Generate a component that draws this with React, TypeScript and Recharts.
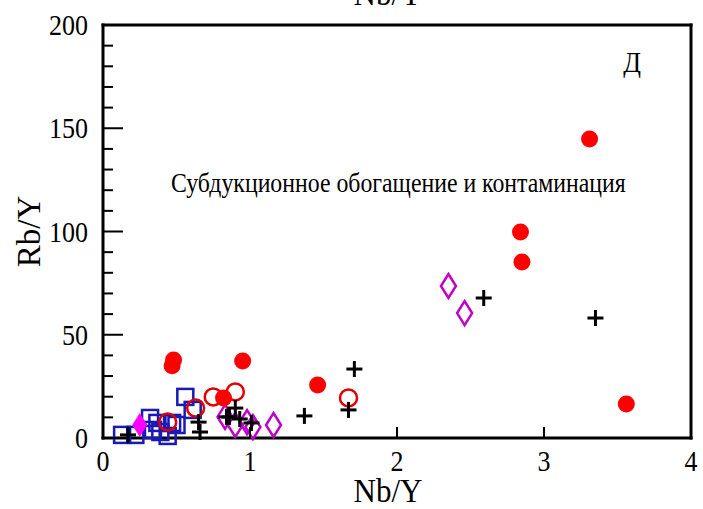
import React from "react";
import { ScatterChart, Scatter, XAxis, YAxis } from "recharts";

// axis ticks
const xTicks = [0, 1, 2, 3, 4];
const yTicks = [0, 10, 20, 30, 40, 50, 60, 70, 80, 90, 100, 110, 120, 130, 140, 150, 160, 170, 180, 190, 200];
const yLabelTicks = [0, 50, 100, 150, 200];

// red filled circles
const redFilledNb = [0.47, 0.48, 0.82, 0.95, 1.46, 2.84, 2.85, 3.31, 3.56];
const redFilledRb = [35.0, 37.8, 19.4, 37.3, 25.7, 99.8, 85.2, 144.8, 16.5];

// red open circles
const redOpenNb = [0.44, 0.63, 0.75, 0.9, 1.67];
const redOpenRb = [7.7, 14.5, 19.9, 22.3, 19.4];

// black crosses
const crossNb = [0.17, 0.65, 0.66, 0.84, 0.86, 0.9, 0.93, 1.01, 1.37, 1.67, 1.71, 2.59, 3.35];
const crossRb = [1.5, 7.7, 2.9, 10.2, 10.2, 14.5, 9.2, 7.3, 10.7, 13.6, 33.4, 67.8, 58.1];

// blue open squares
const squareNb = [0.13, 0.22, 0.32, 0.34, 0.37, 0.39, 0.44, 0.47, 0.5, 0.56, 0.61];
const squareRb = [1.5, 1.5, 9.7, 3.9, 7.3, 2.9, 1.0, 7.3, 6.3, 19.9, 13.6];

// magenta open diamonds
const diamondNb = [0.83, 0.9, 0.98, 1.02, 1.16, 2.35, 2.46];
const diamondRb = [10.2, 6.3, 7.7, 5.3, 6.3, 73.6, 60.5];

// magenta filled diamond
const diamondFilledNb = [0.25];
const diamondFilledRb = [6.3];

const zip = (xs: number[], ys: number[]) => xs.map((x, i) => ({ x, y: ys[i] }));

const FONT = "'Liberation Serif', 'Times New Roman', serif";
const FRAME = { stroke: "#000", strokeWidth: 3, strokeLinecap: "square" as const };

// serif text, drawn a little taller than wide
const Txt = ({ x, y, size, anchor = "start", children }: any) => (
  <text
    transform={`translate(${x} ${y}) scale(1 1.12)`}
    textAnchor={anchor}
    fontFamily={FONT}
    fontSize={size}
    fill="#000"
  >
    {children}
  </text>
);

const FilledCircle = ({ cx, cy }: any) => <circle cx={cx} cy={cy} r={8.5} fill="#ff0000" />;
const OpenCircle = ({ cx, cy }: any) => (
  <circle cx={cx} cy={cy} r={8.5} fill="none" stroke="#e00000" strokeWidth={2.5} />
);
const Cross = ({ cx, cy }: any) => (
  <g stroke="#000" strokeWidth={3}>
    <line x1={cx - 8} y1={cy} x2={cx + 8} y2={cy} />
    <line x1={cx} y1={cy - 8} x2={cx} y2={cy + 8} />
  </g>
);
const Square = ({ cx, cy }: any) => (
  <rect x={cx - 8} y={cy - 8} width={16} height={16} fill="none" stroke="#1a1ab4" strokeWidth={2.5} />
);
const diamondPts = (cx: number, cy: number) =>
  `${cx},${cy - 12} ${cx + 7.5},${cy} ${cx},${cy + 12} ${cx - 7.5},${cy}`;
const Diamond = ({ cx, cy }: any) => (
  <polygon points={diamondPts(cx, cy)} fill="none" stroke="#c000c8" strokeWidth={2.5} />
);
const DiamondFilled = ({ cx, cy }: any) => <polygon points={diamondPts(cx, cy)} fill="#ff00ff" />;

// inward ticks; tickSize/tickMargin are 0 so x,y sit on the axis line
const BottomTick = ({ x, y, payload }: any) => (
  <g>
    <line x1={x} y1={y} x2={x} y2={y - 11} stroke="#000" strokeWidth={2} />
    <Txt x={x} y={y + 33} size={26} anchor="middle">
      {payload.value}
    </Txt>
  </g>
);
const TopTick = ({ x, y }: any) => (
  <line x1={x} y1={y} x2={x} y2={y + 11} stroke="#000" strokeWidth={2} />
);
const LeftTick = ({ x, y, payload }: any) => {
  const major = yLabelTicks.includes(payload.value);
  return (
    <g>
      <line x1={x} y1={y} x2={x + (major ? 20 : 10)} y2={y} stroke="#000" strokeWidth={2} />
      {major && (
        <Txt x={x - 15} y={y + 10} size={26} anchor="end">
          {payload.value}
        </Txt>
      )}
    </g>
  );
};
const RightTick = ({ x, y, payload }: any) => {
  const major = yLabelTicks.includes(payload.value);
  return <line x1={x} y1={y} x2={x - (major ? 20 : 10)} y2={y} stroke="#000" strokeWidth={2} />;
};

export default function App() {
  return (
    <div style={{ position: "absolute", left: 0, top: 0, background: "#fff" }}>
      <ScatterChart width={703} height={509} margin={{ top: 24, right: 11, bottom: 70, left: 102 }}>
        <XAxis
          xAxisId="x"
          type="number"
          dataKey="x"
          domain={[0, 4]}
          ticks={xTicks}
          interval={0}
          height={1}
          tickSize={0}
          tickMargin={0}
          tickLine={false}
          axisLine={FRAME}
          tick={<BottomTick />}
          label={{
            content: ({ viewBox }: any) => (
              <Txt x={viewBox.x + viewBox.width / 2 - 9} y={viewBox.y + 64} size={31} anchor="middle">
                Nb/Y
              </Txt>
            ),
          }}
        />
        <XAxis
          xAxisId="top"
          orientation="top"
          type="number"
          dataKey="x"
          domain={[0, 4]}
          ticks={xTicks}
          interval={0}
          height={1}
          tickSize={0}
          tickMargin={0}
          tickLine={false}
          axisLine={FRAME}
          tick={<TopTick />}
          label={{
            content: ({ viewBox }: any) => (
              <Txt x={viewBox.x + viewBox.width / 2 - 9} y={5} size={31} anchor="middle">
                Nb/Y
              </Txt>
            ),
          }}
        />
        <YAxis
          yAxisId="y"
          type="number"
          dataKey="y"
          domain={[0, 200]}
          ticks={yTicks}
          interval={0}
          width={1}
          tickSize={0}
          tickMargin={0}
          tickLine={false}
          axisLine={FRAME}
          tick={<LeftTick />}
          label={{
            content: ({ viewBox }: any) => {
              const cx = viewBox.x - 62;
              const cy = viewBox.y + viewBox.height / 2;
              return (
                <text
                  x={cx}
                  y={cy}
                  transform={`rotate(-90 ${cx} ${cy})`}
                  textAnchor="middle"
                  fontFamily={FONT}
                  fontSize={33}
                  fill="#000"
                >
                  Rb/Y
                </text>
              );
            },
          }}
        />
        <YAxis
          yAxisId="right"
          orientation="right"
          type="number"
          dataKey="y"
          domain={[0, 200]}
          ticks={yTicks}
          interval={0}
          width={1}
          tickSize={0}
          tickMargin={0}
          tickLine={false}
          axisLine={FRAME}
          tick={<RightTick />}
        />

        <Scatter xAxisId="x" yAxisId="y" data={zip(squareNb, squareRb)} shape={Square} isAnimationActive={false} />
        <Scatter xAxisId="x" yAxisId="y" data={zip(diamondNb, diamondRb)} shape={Diamond} isAnimationActive={false} />
        <Scatter xAxisId="x" yAxisId="y" data={zip(redOpenNb, redOpenRb)} shape={OpenCircle} isAnimationActive={false} />
        <Scatter xAxisId="x" yAxisId="y" data={zip(redFilledNb, redFilledRb)} shape={FilledCircle} isAnimationActive={false} />
        <Scatter xAxisId="x" yAxisId="y" data={zip(crossNb, crossRb)} shape={Cross} isAnimationActive={false} />
        <Scatter
          xAxisId="x"
          yAxisId="y"
          data={zip(diamondFilledNb, diamondFilledRb)}
          shape={DiamondFilled}
          isAnimationActive={false}
        />

        <Txt x={632} y={72} size={26} anchor="middle">
          Д
        </Txt>
        <Txt x={171} y={192} size={23.8}>
          Субдукционное обогащение и контаминация
        </Txt>
      </ScatterChart>
    </div>
  );
}
